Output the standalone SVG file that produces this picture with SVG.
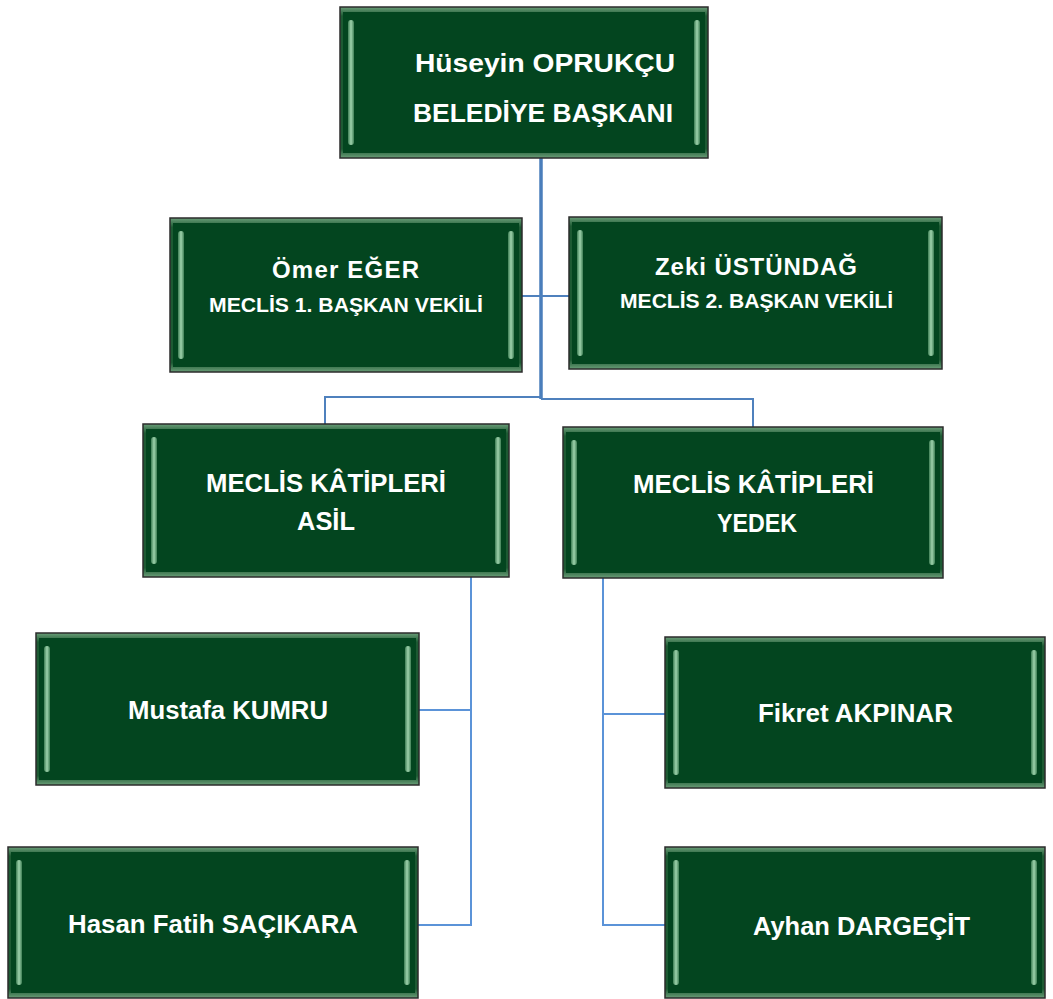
<svg xmlns="http://www.w3.org/2000/svg" width="1053" height="999" viewBox="0 0 1053 999">
<defs>
<linearGradient id="frame" x1="0" y1="0" x2="0" y2="1">
<stop offset="0" stop-color="#6a9e78"/>
<stop offset="0.06" stop-color="#1d5a33"/>
<stop offset="0.94" stop-color="#1d5a33"/>
<stop offset="1" stop-color="#6a9e78"/>
</linearGradient>
<linearGradient id="side" x1="0" y1="0" x2="1" y2="0">
<stop offset="0" stop-color="#3f7f55"/>
<stop offset="0.5" stop-color="#9fd3ad"/>
<stop offset="1" stop-color="#3f7f55"/>
</linearGradient>
<style>
.outer{fill:url(#frame);stroke:#2b2b2b;stroke-width:1.5}
.inner{fill:#03451f}
.strip{fill:url(#side)}
.t{font-family:"Liberation Sans",Arial,sans-serif;font-weight:bold;fill:#ffffff;text-anchor:middle}
.conn{fill:none;stroke:#4f81bd;stroke-width:2}
.conn2{fill:none;stroke:#5b93d8;stroke-width:2}
.trunk{fill:none;stroke:#4a7ebb;stroke-width:3.5}
</style>
</defs>
<rect width="1053" height="999" fill="#ffffff"/>
<g id="connectors">
<path class="trunk" d="M541 158 V399"/>
<path class="conn" d="M522 296 H569"/>
<path class="conn" d="M541 397 H325 V424"/>
<path class="conn" d="M541 399 H753 V427"/>
<path class="conn2" d="M471 577 V925 H418"/>
<path class="conn2" d="M471 710 H419"/>
<path class="conn2" d="M603 578 V925 H665"/>
<path class="conn2" d="M603 714 H665"/>
</g>
<g id="baskan">
<rect class="outer" x="340" y="7" width="368" height="151"/>
<rect class="inner" x="343" y="12" width="362" height="141"/>
<rect class="strip" x="348" y="20" width="6" height="125" rx="3"/>
<rect class="strip" x="694" y="20" width="6" height="125" rx="3"/>
<text class="t" x="545" y="72" font-size="26" textLength="260" lengthAdjust="spacingAndGlyphs">Hüseyin OPRUKÇU</text>
<text class="t" x="543" y="122" font-size="25" textLength="260" lengthAdjust="spacingAndGlyphs">BELEDİYE BAŞKANI</text>
</g>
<g id="omer">
<rect class="outer" x="170" y="218" width="352" height="154"/>
<rect class="inner" x="173" y="223" width="346" height="144"/>
<rect class="strip" x="178" y="231" width="6" height="128" rx="3"/>
<rect class="strip" x="508" y="231" width="6" height="128" rx="3"/>
<text class="t" x="345.5" y="278" font-size="24" textLength="147" lengthAdjust="spacing">Ömer EĞER</text>
<text class="t" x="346" y="312" font-size="20" textLength="274" lengthAdjust="spacingAndGlyphs">MECLİS 1. BAŞKAN VEKİLİ</text>
</g>
<g id="zeki">
<rect class="outer" x="569" y="217" width="373" height="152"/>
<rect class="inner" x="572" y="222" width="367" height="142"/>
<rect class="strip" x="577" y="230" width="6" height="126" rx="3"/>
<rect class="strip" x="928" y="230" width="6" height="126" rx="3"/>
<text class="t" x="756" y="275" font-size="24" textLength="202" lengthAdjust="spacing">Zeki ÜSTÜNDAĞ</text>
<text class="t" x="756.5" y="308" font-size="20" textLength="273" lengthAdjust="spacingAndGlyphs">MECLİS 2. BAŞKAN VEKİLİ</text>
</g>
<g id="asil">
<rect class="outer" x="143" y="424" width="366" height="153"/>
<rect class="inner" x="146" y="429" width="360" height="143"/>
<rect class="strip" x="151" y="437" width="6" height="127" rx="3"/>
<rect class="strip" x="495" y="437" width="6" height="127" rx="3"/>
<text class="t" x="326" y="492" font-size="25" textLength="240" lengthAdjust="spacingAndGlyphs">MECLİS KÂTİPLERİ</text>
<text class="t" x="326" y="530" font-size="25" textLength="58" lengthAdjust="spacingAndGlyphs">ASİL</text>
</g>
<g id="yedek">
<rect class="outer" x="563" y="427" width="380" height="151"/>
<rect class="inner" x="566" y="432" width="374" height="141"/>
<rect class="strip" x="571" y="440" width="6" height="125" rx="3"/>
<rect class="strip" x="929" y="440" width="6" height="125" rx="3"/>
<text class="t" x="753.5" y="493" font-size="25" textLength="241" lengthAdjust="spacingAndGlyphs">MECLİS KÂTİPLERİ</text>
<text class="t" x="757" y="532" font-size="25" textLength="80" lengthAdjust="spacingAndGlyphs">YEDEK</text>
</g>
<g id="mustafa">
<rect class="outer" x="36" y="633" width="383" height="152"/>
<rect class="inner" x="39" y="638" width="377" height="142"/>
<rect class="strip" x="44" y="646" width="6" height="126" rx="3"/>
<rect class="strip" x="405" y="646" width="6" height="126" rx="3"/>
<text class="t" x="228" y="719" font-size="25" textLength="200" lengthAdjust="spacingAndGlyphs">Mustafa  KUMRU</text>
</g>
<g id="hasan">
<rect class="outer" x="8" y="847" width="410" height="151"/>
<rect class="inner" x="11" y="852" width="404" height="141"/>
<rect class="strip" x="16" y="860" width="6" height="125" rx="3"/>
<rect class="strip" x="404" y="860" width="6" height="125" rx="3"/>
<text class="t" x="213" y="933" font-size="25" textLength="290" lengthAdjust="spacingAndGlyphs">Hasan  Fatih SAÇIKARA</text>
</g>
<g id="fikret">
<rect class="outer" x="665" y="637" width="380" height="151"/>
<rect class="inner" x="668" y="642" width="374" height="141"/>
<rect class="strip" x="673" y="650" width="6" height="125" rx="3"/>
<rect class="strip" x="1031" y="650" width="6" height="125" rx="3"/>
<text class="t" x="855.5" y="722" font-size="25" textLength="195" lengthAdjust="spacingAndGlyphs">Fikret AKPINAR</text>
</g>
<g id="ayhan">
<rect class="outer" x="665" y="847" width="380" height="151"/>
<rect class="inner" x="668" y="852" width="374" height="141"/>
<rect class="strip" x="673" y="860" width="6" height="125" rx="3"/>
<rect class="strip" x="1031" y="860" width="6" height="125" rx="3"/>
<text class="t" x="861.5" y="935" font-size="25" textLength="217" lengthAdjust="spacingAndGlyphs">Ayhan DARGEÇİT</text>
</g>
</svg>
